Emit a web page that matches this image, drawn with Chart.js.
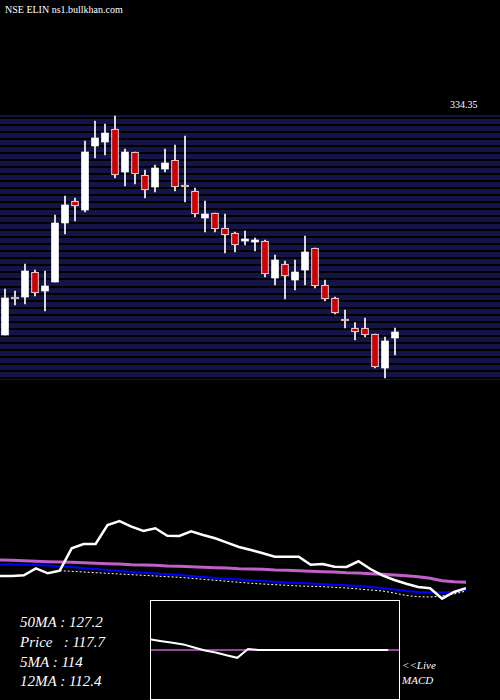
<!DOCTYPE html>
<html>
<head>
<meta charset="utf-8">
<script src="https://cdn.jsdelivr.net/npm/chart.js@4.4.1/dist/chart.umd.min.js"></script>
<style>
  body { margin: 0; background: #000; width: 500px; height: 700px; position: relative; overflow: hidden; font-family: "DejaVu Serif", serif; color: #fff; }
  .abs { position: absolute; }
  #candleWrap { left: 0; top: 115px; width: 500px; height: 265px; background: #141446; }
  #lineWrap { left: 0; top: 500px; width: 466px; height: 100px; }
  #macdWrap { left: 150px; top: 600px; width: 250px; height: 100px; border: 1px solid #fff; box-sizing: border-box; }
  .info { left: 20px; font-style: italic; font-size: 15px; font-family: "Liberation Serif", serif; }
  .live { left: 402px; font-style: italic; font-size: 11px; font-family: "Liberation Serif", serif; }
</style>
</head>
<body>
<div class="abs" style="left:5px;top:4px;font-size:10px;font-family:'Liberation Serif',serif;">NSE ELIN ns1.bullkhan.com</div>
<div class="abs" style="left:450px;top:99px;font-size:10px;font-family:'Liberation Serif',serif;">334.35</div>
<div class="abs" id="candleWrap"><canvas id="candles"></canvas></div>
<div class="abs" id="lineWrap"><canvas id="lines"></canvas></div>
<div class="abs" id="macdWrap"><canvas id="macd"></canvas></div>
<div class="abs info" style="top:614px;">50MA : 127.2</div>
<div class="abs info" style="top:634px;">Price &nbsp; : 117.7</div>
<div class="abs info" style="top:654px;">5MA : 114</div>
<div class="abs info" style="top:673px;">12MA : 112.4</div>
<div class="abs live" style="top:659px;">&lt;&lt;Live</div>
<div class="abs live" style="top:674px;">MACD</div>
<script>
// candle data (OHLC)
const opens  = [116.5,131.7,131.7,141.7,134.1,137.7,161.3,170.1,166.5,192.1,193.7,198.9,181.7,189.7,180.5,175.7,182.9,186.5,176.5,174.1,163.3,165.3,159.3,157.3,154.1,153.7,154.1,139.3,144.9,138.5,142.5,151.3,136.5,131.3,122.9,119.3,119.3,116.9,103.3,115.3];
const highs  = [134.9,134.1,144.9,142.5,142.1,164.5,172.1,171.3,194.1,202.1,200.9,204.1,190.9,189.7,182.5,184.5,190.9,192.5,196.1,175.3,170.1,165.3,164.9,157.7,158.1,155.3,154.5,148.5,146.1,146.5,156.1,151.3,138.5,131.7,126.5,121.5,123.3,116.9,115.7,119.3];
const lows   = [116.5,128.5,128.9,132.1,126.1,137.7,156.9,162.1,165.7,187.3,188.5,179.3,176.1,176.9,171.3,173.7,181.7,174.1,169.7,163.7,157.7,157.7,149.3,149.7,152.5,150.1,139.7,136.5,130.9,134.5,136.5,135.3,130.1,124.9,119.3,114.5,115.7,103.3,99.3,108.5];
const closes = [131.3,130.9,142.1,133.3,136.1,161.3,168.5,168.1,189.7,195.3,197.3,180.5,189.7,180.9,174.5,183.3,185.3,175.7,175.7,164.9,164.9,158.9,156.5,152.5,154.5,154.1,140.9,146.5,140.1,141.7,149.7,136.1,130.9,125.3,122.1,117.7,116.5,103.7,114.1,117.7];
const slots = 50;

// lower panel: price line and moving averages
const priceLine = [24,24,24.7,31.7,26.7,29.3,51.7,56,56,75,79,73.3,69,71.7,64.3,64,68.7,65,61.7,57.3,53,50,46.7,43.3,43.3,43.3,35.3,36,33.3,33,38.7,31,24.7,20,16.3,13,11.7,1.3,8,11.7];
const ma50 = [40,39.7,39.3,38.7,38.3,38,37.7,37.3,36.7,36.3,36,35.3,35,34.7,34,33.7,33.3,32.7,32.3,32,31.3,31,30.7,30,29.7,29.3,28.7,28.3,28,27.3,27,26.3,25.7,25,24.3,23.3,21.7,19.3,18.3,17.7];
const ma12 = [35.7,35.7,35.5,35,34.5,33.8,33,32,31,30,29,28,27.3,26.5,25.8,25,24,23,22,21.2,20.5,19.8,19,18.3,17.5,17,16.5,16,15.3,14.7,14,13,12,10.5,9,8,7.7,7.5,8.3,10];
const ma5 = [null,null,null,null,null,29.3,28.7,28,27.3,26.7,26,25.3,24.7,24,23.3,22.7,21.7,20.7,19.7,18.7,17.7,16.7,16,15.3,14.7,14,13.7,13.3,12.7,12,11,10,9,7,4.5,3.3,3,4,6,9];

// MACD panel
const macdLine = [60.7,59,57.5,55.7,52.5,49.5,47.5,44.7,42,51,50,50,50,50,50,50,50,50,50,50,50,50,50,null];
const signalLine = [50,50,50,50,50,50,50,50,50,50,50,50,50,50,50,50,50,50,50,50,50,50,50,50];

const idx = n => Array.from({ length: n }, (_, i) => i);
const up = opens.map((o, i) => closes[i] >= o);

new Chart(document.getElementById('candles'), {
  type: 'bar',
  data: {
    labels: idx(slots),
    datasets: [
      {
        data: lows.map((l, i) => [l, highs[i]]),
        backgroundColor: '#fff',
        barThickness: 1,
        grouped: false,
        order: 2
      },
      {
        data: opens.map((o, i) => [o, closes[i]]),
        backgroundColor: up.map(u => (u ? '#fff' : '#cc0000')),
        borderColor: '#fff',
        borderWidth: up.map(u => (u ? 0 : 1)),
        borderSkipped: false,
        barThickness: 7,
        minBarLength: 2,
        grouped: false,
        order: 1
      }
    ]
  },
  options: {
    responsive: true,
    maintainAspectRatio: false,
    animation: false,
    layout: { padding: 0 },
    plugins: { legend: { display: false }, tooltip: { enabled: false } },
    scales: {
      x: { display: false, offset: true },
      y: {
        min: 98.5,
        max: 204.5,
        border: { display: false },
        afterFit: s => { s.width = 0; },
        afterBuildTicks: s => {
          const t = [];
          for (let v = 99.5; v < 204.5; v += 2.8) t.push({ value: v });
          s.ticks = t;
        },
        grid: { color: '#000', lineWidth: 2, drawTicks: false },
        ticks: { display: false }
      }
    }
  }
});

const lineOpts = (min, max) => ({
  responsive: true,
  maintainAspectRatio: false,
  animation: false,
  layout: { padding: 0 },
  plugins: { legend: { display: false }, tooltip: { enabled: false } },
  elements: { point: { radius: 0 }, line: { tension: 0 } },
  scales: { x: { display: false }, y: { display: false, min: min, max: max } }
});

new Chart(document.getElementById('lines'), {
  type: 'line',
  data: {
    labels: idx(priceLine.length),
    datasets: [
      { data: priceLine, borderColor: '#fff', borderWidth: 2.5 },
      { data: ma5, borderColor: '#fff', borderWidth: 1, borderDash: [2, 2] },
      { data: ma12, borderColor: '#0000ff', borderWidth: 2 },
      { data: ma50, borderColor: '#c060c8', borderWidth: 3 }
    ]
  },
  options: lineOpts(0, 100)
});

new Chart(document.getElementById('macd'), {
  type: 'line',
  data: {
    labels: idx(signalLine.length),
    datasets: [
      { data: macdLine, borderColor: '#fff', borderWidth: 2 },
      { data: signalLine, borderColor: '#c060c8', borderWidth: 1.5, order: 2 }
    ]
  },
  options: lineOpts(0, 100)
});
</script>
</body>
</html>
